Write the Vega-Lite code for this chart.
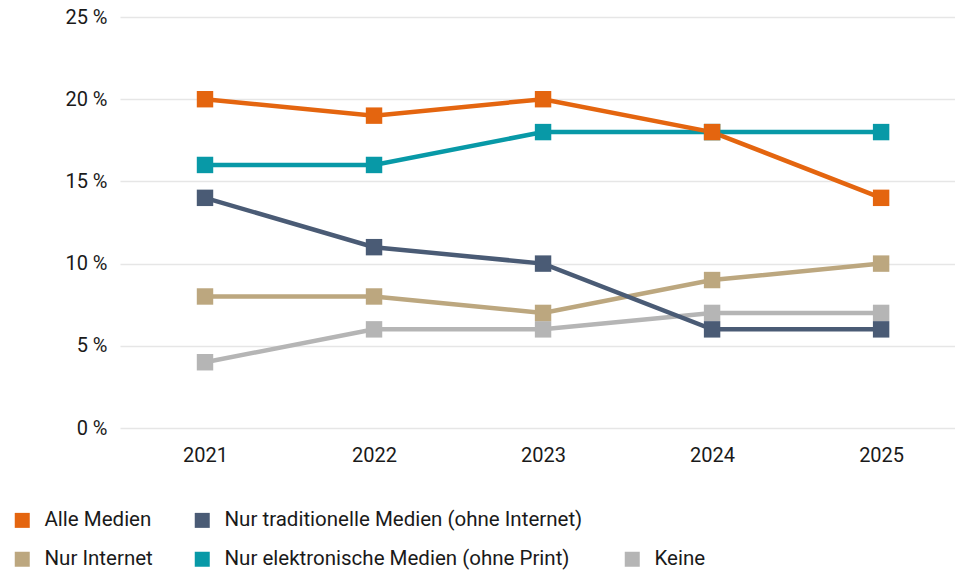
{
  "$schema": "https://vega.github.io/schema/vega-lite/v6.json",
  "width": 835,
  "height": 411,
  "autosize": {"type": "none"},
  "padding": {"left": 120, "top": 17, "right": 0, "bottom": 144},
  "background": "white",
  "config": {
    "font": "Roboto",
    "view": {"stroke": null},
    "axis": {"labelFont": "Roboto", "labelFontSize": 20, "labelColor": "#1a1a1a"}
  },
  "data": {
    "values": [
      {"Jahr": "2021", "Kategorie": "Keine", "Wert": 4},
      {"Jahr": "2022", "Kategorie": "Keine", "Wert": 6},
      {"Jahr": "2023", "Kategorie": "Keine", "Wert": 6},
      {"Jahr": "2024", "Kategorie": "Keine", "Wert": 7},
      {"Jahr": "2025", "Kategorie": "Keine", "Wert": 7},
      {"Jahr": "2021", "Kategorie": "Nur Internet", "Wert": 8},
      {"Jahr": "2022", "Kategorie": "Nur Internet", "Wert": 8},
      {"Jahr": "2023", "Kategorie": "Nur Internet", "Wert": 7},
      {"Jahr": "2024", "Kategorie": "Nur Internet", "Wert": 9},
      {"Jahr": "2025", "Kategorie": "Nur Internet", "Wert": 10},
      {"Jahr": "2021", "Kategorie": "Nur elektronische Medien (ohne Print)", "Wert": 16},
      {"Jahr": "2022", "Kategorie": "Nur elektronische Medien (ohne Print)", "Wert": 16},
      {"Jahr": "2023", "Kategorie": "Nur elektronische Medien (ohne Print)", "Wert": 18},
      {"Jahr": "2024", "Kategorie": "Nur elektronische Medien (ohne Print)", "Wert": 18},
      {"Jahr": "2025", "Kategorie": "Nur elektronische Medien (ohne Print)", "Wert": 18},
      {"Jahr": "2021", "Kategorie": "Nur traditionelle Medien (ohne Internet)", "Wert": 14},
      {"Jahr": "2022", "Kategorie": "Nur traditionelle Medien (ohne Internet)", "Wert": 11},
      {"Jahr": "2023", "Kategorie": "Nur traditionelle Medien (ohne Internet)", "Wert": 10},
      {"Jahr": "2024", "Kategorie": "Nur traditionelle Medien (ohne Internet)", "Wert": 6},
      {"Jahr": "2025", "Kategorie": "Nur traditionelle Medien (ohne Internet)", "Wert": 6},
      {"Jahr": "2021", "Kategorie": "Alle Medien", "Wert": 20},
      {"Jahr": "2022", "Kategorie": "Alle Medien", "Wert": 19},
      {"Jahr": "2023", "Kategorie": "Alle Medien", "Wert": 20},
      {"Jahr": "2024", "Kategorie": "Alle Medien", "Wert": 18},
      {"Jahr": "2025", "Kategorie": "Alle Medien", "Wert": 14}
    ]
  },
  "encoding": {
    "x": {
      "field": "Jahr", "type": "ordinal",
      "scale": {"type": "point", "padding": 0.47, "align": 0.535},
      "axis": {"title": null, "labelAngle": 0, "domain": false, "ticks": false, "grid": false, "labelPadding": 17}
    },
    "y": {
      "field": "Wert", "type": "quantitative",
      "scale": {"domain": [0, 25], "nice": false},
      "axis": {
        "title": null, "values": [0, 5, 10, 15, 20, 25], "labelExpr": "datum.value + ' %'",
        "domain": false, "ticks": false, "labelPadding": 13,
        "gridColor": "#e6e6e6", "gridWidth": 1.5
      }
    },
    "color": {
      "field": "Kategorie", "type": "nominal",
      "scale": {
        "domain": ["Alle Medien", "Nur traditionelle Medien (ohne Internet)", " ", "Nur Internet", "Nur elektronische Medien (ohne Print)", "Keine"],
        "range": ["#e4650f", "#4a5b75", "rgba(0,0,0,0)", "#bca77f", "#0899a7", "#b5b5b5"]
      },
      "legend": {
        "title": null, "orient": "none", "legendX": -108, "legendY": 493,
        "direction": "horizontal", "columns": 3, "padding": 0,
        "columnPadding": 39, "rowPadding": 18,
        "symbolType": "square", "symbolSize": 225, "symbolStrokeWidth": 0, "symbolOpacity": 1,
        "labelFont": "Roboto", "labelFontSize": 20.5, "labelColor": "#1a1a1a", "labelOffset": 12, "labelLimit": 500
      }
    }
  },
  "layer": [
    {"mark": {"type": "line", "strokeWidth": 4.5}},
    {"mark": {"type": "point", "shape": "square", "filled": true, "size": 270, "opacity": 1}}
  ]
}
